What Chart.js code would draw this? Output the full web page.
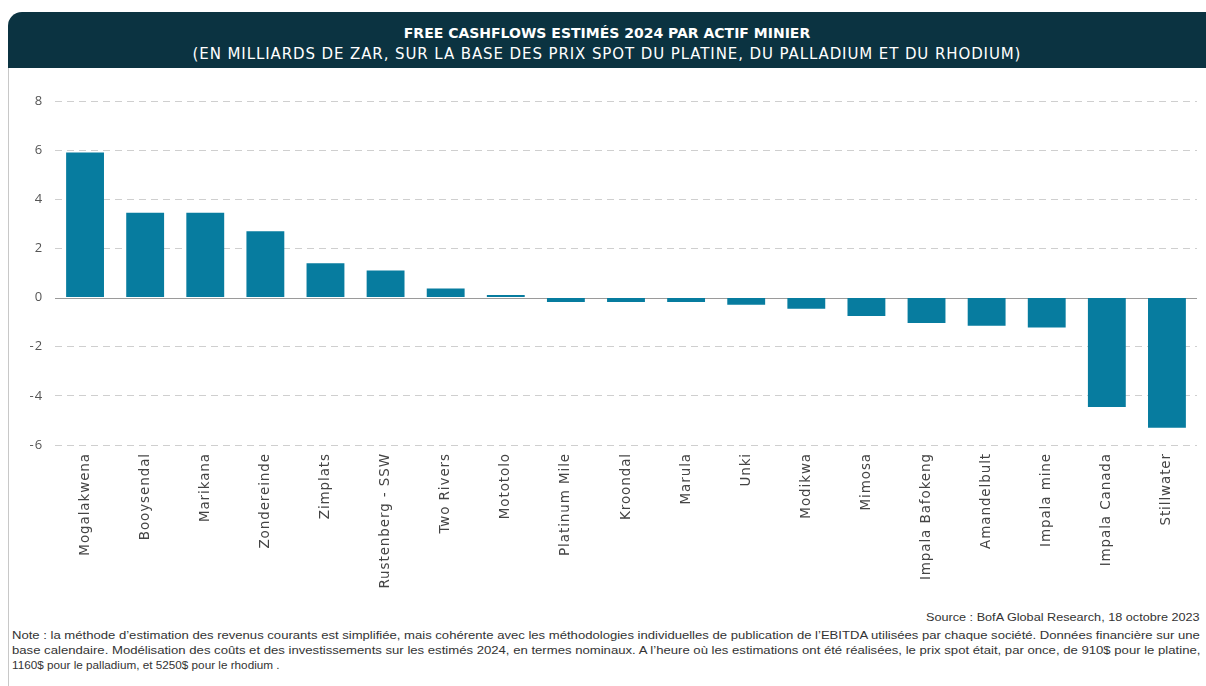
<!DOCTYPE html>
<html>
<head>
<meta charset="utf-8">
<script src="https://cdn.jsdelivr.net/npm/chart.js@4"></script>
<style>
  html, body { margin:0; padding:0; background:#fff; width:1206px; height:686px; overflow:hidden; }
  #header { position:absolute; left:8px; top:12px; width:1198px; height:56px; background:#0b3341;
    border-top-left-radius:14px; color:#fff; text-align:center; font-family:"DejaVu Sans",sans-serif; }
  #t1 { position:absolute; left:0; right:0; top:13px; font-size:14px; font-weight:bold; }
  #t2 { position:absolute; left:0; right:0; top:33px; font-size:15px; letter-spacing:0.9px; }
  #leftline { position:absolute; left:8px; top:68px; width:1px; height:618px; background:#c8c8c8; }
  #wrap { position:absolute; left:10px; top:80px; width:1196px; height:510px; }
  .fit { position:absolute; white-space:nowrap; font-family:"Liberation Sans",sans-serif; font-size:11.5px; color:#333; transform-origin:0 0; }
</style>
</head>
<body>
<div id="header">
  <div id="t1">FREE CASHFLOWS ESTIMÉS 2024 PAR ACTIF MINIER</div>
  <div id="t2">(EN MILLIARDS DE ZAR, SUR LA BASE DES PRIX SPOT DU PLATINE, DU PALLADIUM ET DU RHODIUM)</div>
</div>
<div id="leftline"></div>
<div id="wrap"><canvas id="c"></canvas></div>
<div class="fit" data-x="926" data-w="274" style="top:611px;">Source : BofA Global Research, 18 octobre 2023</div>
<div class="fit" data-x="12" data-w="1188" style="top:629px;">Note : la méthode d’estimation des revenus courants est simplifiée, mais cohérente avec les méthodologies individuelles de publication de l’EBITDA utilisées par chaque société. Données financière sur une</div>
<div class="fit" data-x="12" data-w="1188" style="top:644px;">base calendaire. Modélisation des coûts et des investissements sur les estimés 2024, en termes nominaux. A l’heure où les estimations ont été réalisées, le prix spot était, par once, de 910$ pour le platine,</div>
<div class="fit" data-x="12" data-w="268" style="top:659px;">1160$ pour le palladium, et 5250$ pour le rhodium .</div>
<script>
document.querySelectorAll('.fit').forEach(el => {
  const w = el.scrollWidth;
  const target = parseFloat(el.dataset.w);
  el.style.left = el.dataset.x + 'px';
  el.style.transform = 'scaleX(' + (target / w) + ')';
});

const categories = ["Mogalakwena","Booysendal","Marikana","Zondereinde","Zimplats","Rustenberg - SSW","Two Rivers","Mototolo","Platinum Mile","Kroondal","Marula","Unki","Modikwa","Mimosa","Impala Bafokeng","Amandelbult","Impala mine","Impala Canada","Stillwater"];
const freeCashflows = [5.9, 3.45, 3.45, 2.7, 1.4, 1.1, 0.37, 0.1, -0.18, -0.18, -0.18, -0.29, -0.45, -0.75, -1.03, -1.15, -1.22, -4.45, -5.3];
const yTicks = [-6, -4, -2, 0, 2, 4, 6, 8];

const zeroLine = {
  id: 'zeroLine',
  beforeDraw(chart) { chart.ctx.letterSpacing = '0.9px'; },
  beforeDatasetsDraw(chart) {
    const { ctx, chartArea, scales } = chart;
    const y = Math.round(scales.y.getPixelForValue(0)) + 0.5;
    ctx.save();
    ctx.strokeStyle = '#9a9a9a';
    ctx.lineWidth = 1.2;
    ctx.beginPath();
    ctx.moveTo(chartArea.left, y);
    ctx.lineTo(chartArea.right, y);
    ctx.stroke();
    ctx.restore();
  }
};

new Chart(document.getElementById('c'), {
  type: 'bar',
  data: {
    labels: categories,
    datasets: [{
      data: freeCashflows,
      backgroundColor: '#077c9f',
      borderWidth: 0,
      categoryPercentage: 1.0,
      barPercentage: 0.63
    }]
  },
  options: {
    responsive: true,
    maintainAspectRatio: false,
    animation: false,
    layout: { padding: { top: 21, right: 9, left: 0, bottom: 0 } },
    plugins: { legend: { display: false }, tooltip: { enabled: false } },
    scales: {
      x: {
        grid: { display: false, drawTicks: false },
        border: { display: false },
        ticks: {
          autoSkip: false, maxRotation: 90, minRotation: 90, padding: 8,
          color: '#444', font: { family: 'DejaVu Sans, sans-serif', size: 13.5 }
        },
        afterFit: s => { s.height = 145; }
      },
      y: {
        min: -6, max: 8,
        afterBuildTicks: s => { s.ticks = yTicks.map(v => ({ value: v })); },
        grid: {
          drawTicks: false,
          color: c => c.tick && c.tick.value === 0 ? 'rgba(0,0,0,0)' : '#cfcfcf',
          lineWidth: 1
        },
        border: { display: false, dash: [7, 5] },
        ticks: {
          padding: 12, color: '#555',
          font: { family: 'Open Sans, sans-serif', size: 13 }
        },
        afterFit: s => { s.width = 45; }
      }
    }
  },
  plugins: [zeroLine]
});
</script>
</body>
</html>
